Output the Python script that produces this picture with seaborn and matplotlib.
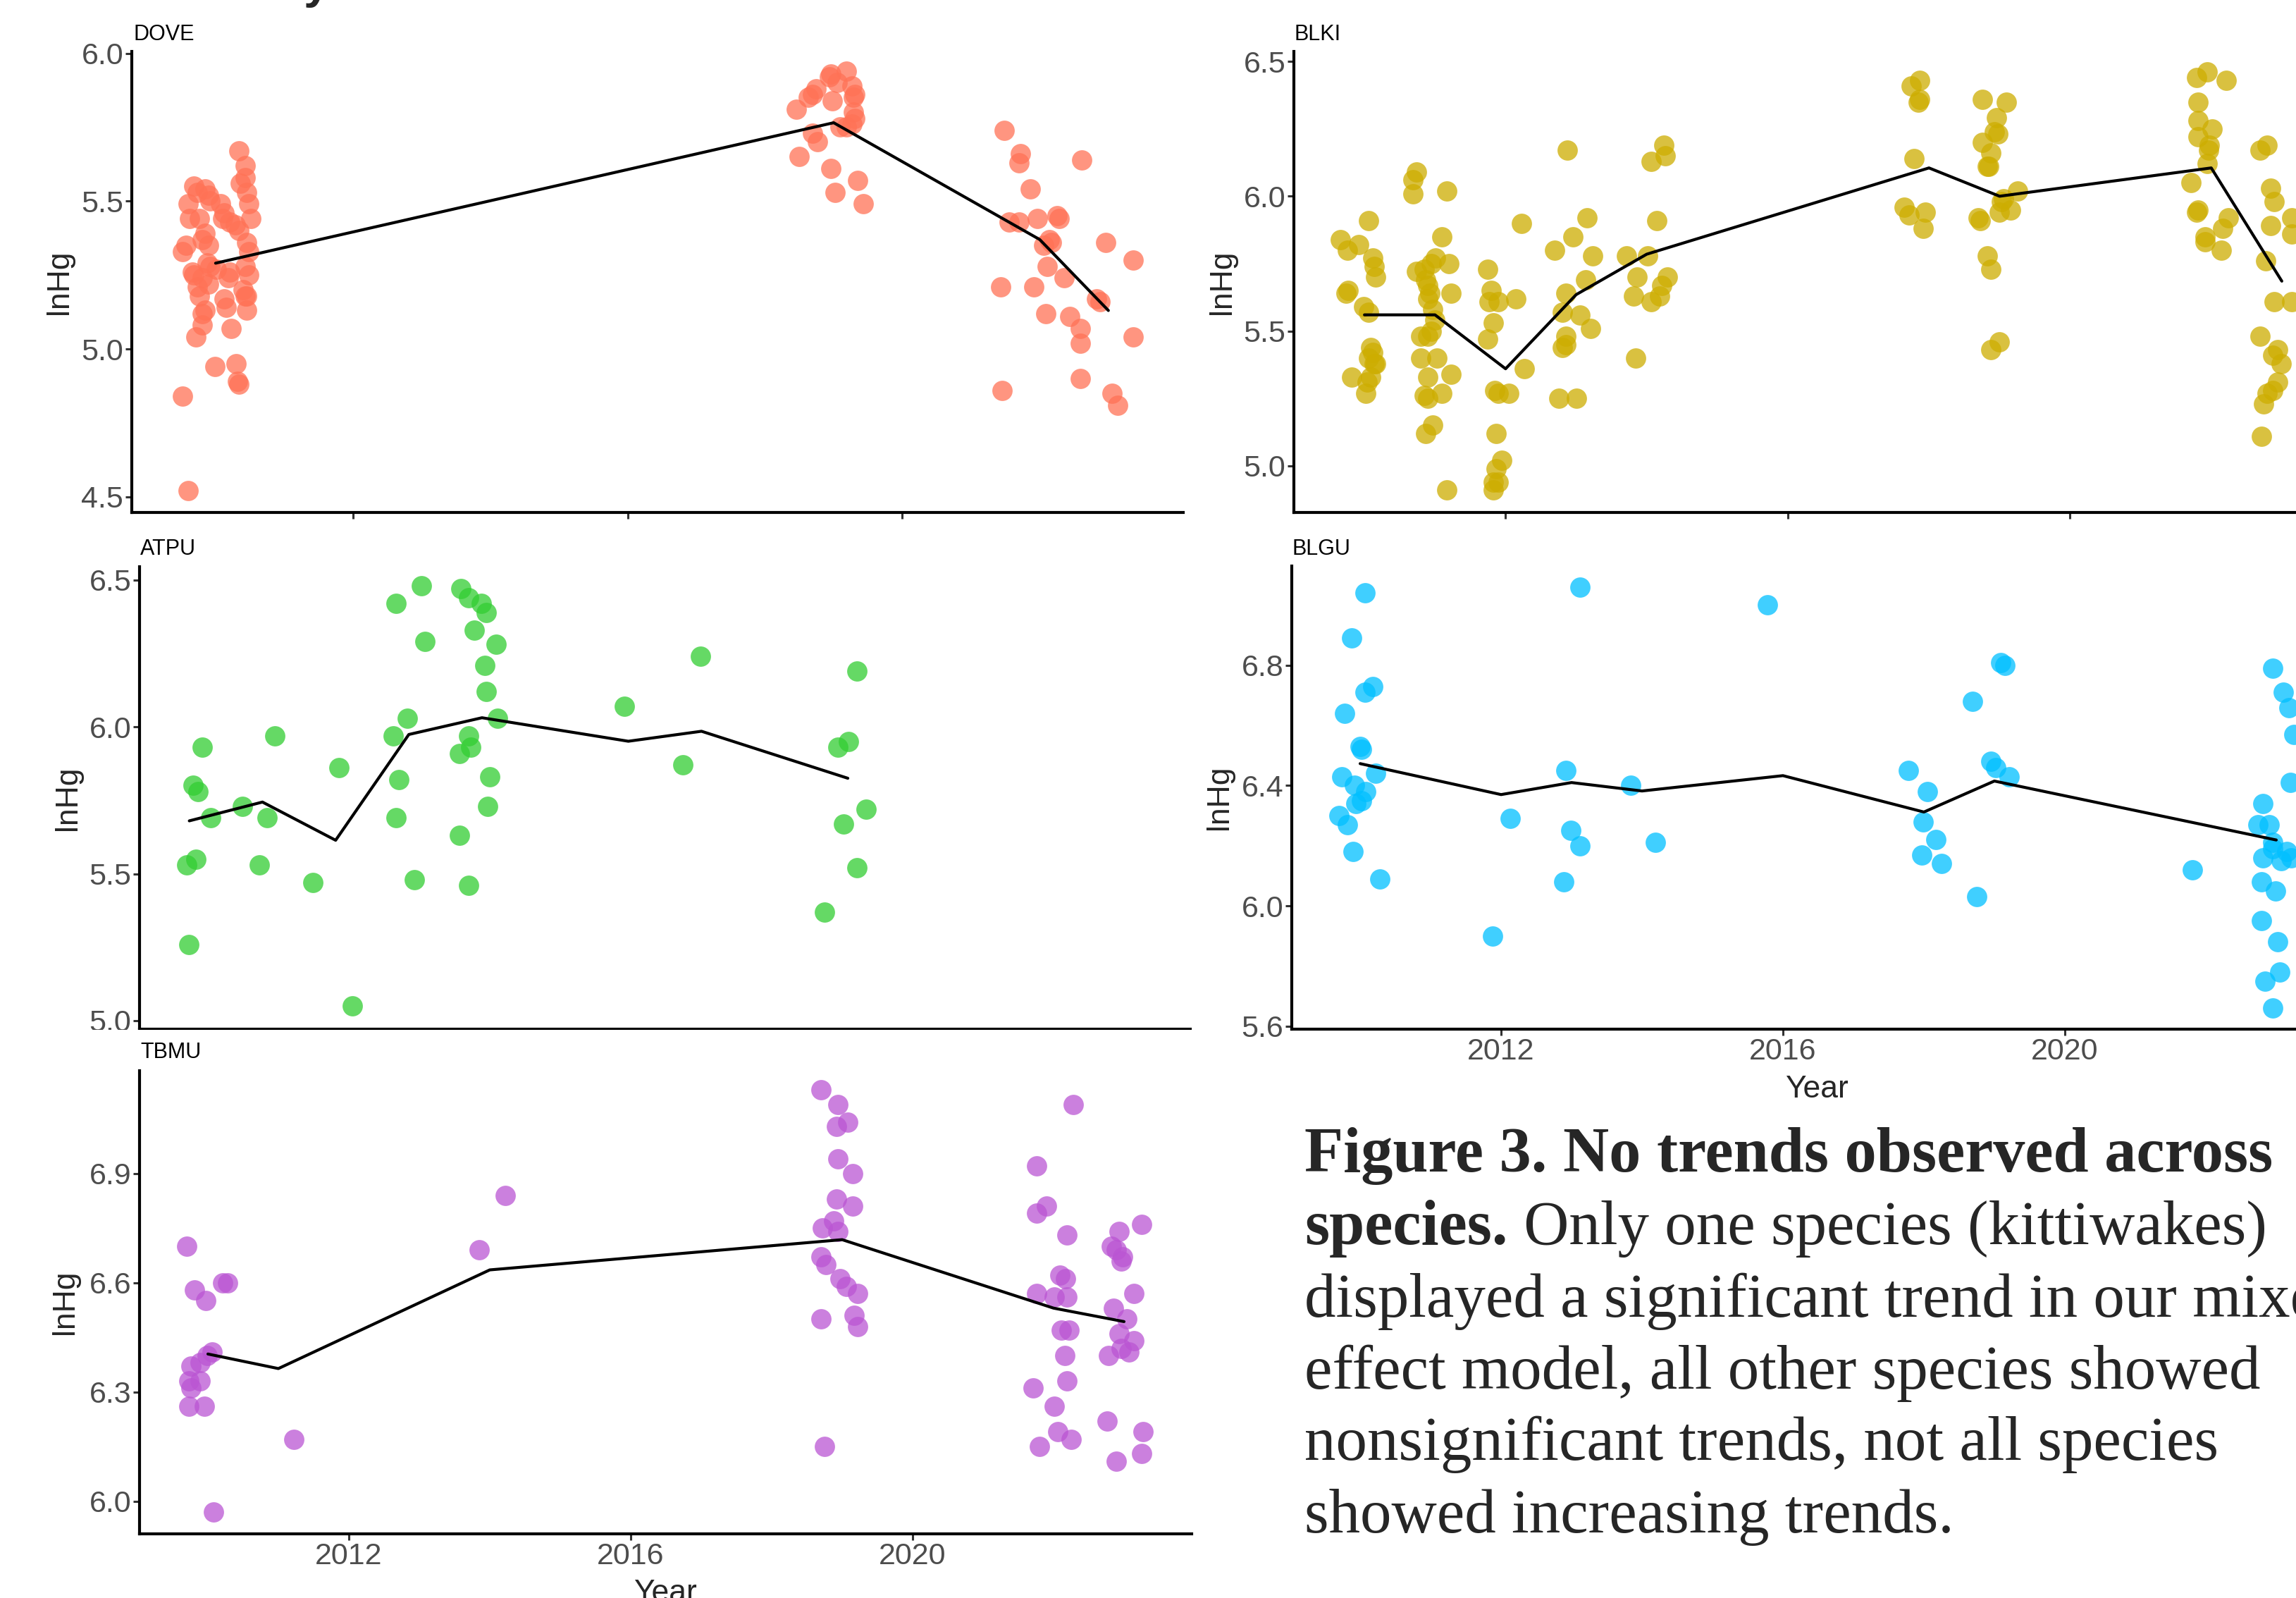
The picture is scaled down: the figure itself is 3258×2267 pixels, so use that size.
import matplotlib
matplotlib.use("Agg")
import matplotlib.pyplot as plt
import seaborn as sns
from matplotlib.patches import Rectangle

sns.set_theme(style="white")
plt.rcParams['font.family'] = ['Liberation Sans', 'DejaVu Sans']

# ---------------- data (jittered sample points + yearly mean line) ----------------
# DOVE
dove_x = [2009.52, 2009.60, 2009.71, 2009.81, 2009.99, 2010.30, 2010.34, 2010.32, 2010.23, 2010.45,
          2010.45, 2010.43, 2010.15, 2010.12, 2009.85, 2009.81, 2009.77, 2009.73, 2009.68, 2009.66,
          2009.81, 2009.90, 2009.92, 2009.88, 2010.01, 2009.57, 2009.52, 2009.81, 2009.90, 2009.85,
          2009.62, 2009.77, 2009.60, 2009.73, 2009.68, 2009.85, 2009.90, 2009.92, 2010.07, 2010.12,
          2010.10, 2010.21, 2010.29, 2010.34, 2010.34, 2010.43, 2010.43, 2010.36, 2010.45, 2010.48,
          2010.51, 2010.45, 2010.48, 2010.43, 2010.48, 2010.40, 2010.21, 2010.19,
          2018.46, 2018.50, 2018.69, 2018.74, 2018.63, 2018.94, 2018.96, 2019.05, 2018.98, 2019.18,
          2019.27, 2019.31, 2019.29, 2019.29, 2019.31, 2019.27, 2019.18, 2018.69, 2018.76, 2018.96,
          2019.02, 2019.35, 2019.43, 2019.09,
          2021.48, 2021.72, 2021.70, 2022.61, 2021.86, 2021.56, 2021.70, 2021.97, 2022.25, 2022.28,
          2022.14, 2022.06, 2022.17, 2022.96, 2023.36, 2022.11, 2022.36, 2021.43, 2021.91, 2022.83,
          2022.88, 2022.09, 2022.44, 2022.59, 2022.59, 2023.36, 2022.59, 2021.45, 2023.05, 2023.14]
dove_y = [4.84, 4.52, 5.04, 5.08, 4.94, 4.95, 4.88, 4.89, 5.07, 5.13,
          5.18, 5.18, 5.14, 5.17, 5.13, 5.12, 5.18, 5.21, 5.25, 5.26,
          5.24, 5.22, 5.28, 5.29, 5.27, 5.35, 5.33, 5.37, 5.35, 5.39,
          5.44, 5.44, 5.49, 5.53, 5.55, 5.54, 5.52, 5.50, 5.49, 5.46,
          5.44, 5.43, 5.42, 5.40, 5.67, 5.62, 5.58, 5.56, 5.53, 5.49,
          5.44, 5.36, 5.33, 5.28, 5.25, 5.20, 5.26, 5.24,
          5.81, 5.65, 5.86, 5.88, 5.85, 5.92, 5.93, 5.90, 5.84, 5.94,
          5.89, 5.86, 5.85, 5.80, 5.78, 5.76, 5.75, 5.73, 5.70, 5.61,
          5.53, 5.57, 5.49, 5.75,
          5.74, 5.66, 5.63, 5.64, 5.54, 5.43, 5.43, 5.44, 5.45, 5.44,
          5.37, 5.35, 5.36, 5.36, 5.30, 5.28, 5.24, 5.21, 5.21, 5.17,
          5.16, 5.12, 5.11, 5.07, 5.02, 5.04, 4.90, 4.86, 4.85, 4.81]
dove_years = [2010, 2019, 2022, 2023]
dove_mean = [5.29, 5.765, 5.37, 5.13]

# BLKI
blki_x = [2009.66, 2009.76, 2009.92, 2010.06, 2010.12, 2010.14, 2010.16, 2009.74, 2009.77, 2009.99,
          2010.06, 2010.09, 2010.12, 2010.06, 2010.14, 2010.16, 2010.09, 2009.82, 2010.04, 2010.02,
          2010.69, 2010.74, 2010.69, 2011.17, 2011.10, 2010.74, 2010.85, 2010.95, 2011.01, 2011.20,
          2010.87, 2010.90, 2010.93, 2011.23, 2010.90, 2010.97, 2011.00, 2010.95, 2010.90, 2010.80,
          2010.80, 2011.03, 2010.90, 2011.23, 2010.85, 2010.90, 2011.10, 2010.97, 2010.87, 2011.17,
          2011.75, 2011.80, 2011.77, 2011.90, 2012.15, 2012.23, 2011.83, 2011.75, 2012.27, 2011.85,
          2011.90, 2012.05, 2011.87, 2011.95, 2011.87, 2011.83, 2011.90, 2011.83,
          2012.87, 2013.15, 2012.95, 2012.70, 2013.23, 2013.13, 2012.85, 2012.80, 2013.05, 2013.20,
          2012.85, 2012.80, 2012.85, 2012.75, 2013.00,
          2014.24, 2014.26, 2014.06, 2014.14, 2013.71, 2014.01, 2013.86, 2014.29, 2014.21, 2014.18,
          2013.81, 2014.06, 2013.84,
          2017.87, 2017.75, 2017.87, 2017.85, 2017.79, 2017.65, 2017.72, 2017.95, 2017.92,
          2018.76, 2019.10, 2018.96, 2018.93, 2018.98, 2018.76, 2018.88, 2018.83, 2018.85, 2019.26,
          2019.03, 2019.06, 2019.16, 2018.70, 2018.73, 2019.00, 2018.83, 2018.88, 2018.88, 2019.00,
          2021.79, 2021.94, 2022.21, 2021.81, 2021.81, 2022.01, 2021.81, 2021.97, 2021.96, 2021.94,
          2021.71, 2021.81, 2021.79, 2022.24, 2022.16, 2021.91, 2021.91, 2022.14,
          2022.69, 2022.79, 2022.84, 2022.89, 2023.14, 2022.84, 2023.14, 2022.77, 2022.89, 2023.14,
          2022.69, 2022.94, 2022.87, 2022.99, 2022.94, 2022.87, 2022.79, 2022.74, 2022.71]
blki_y = [5.84, 5.80, 5.82, 5.91, 5.77, 5.74, 5.70, 5.64, 5.65, 5.59,
          5.57, 5.44, 5.42, 5.40, 5.38, 5.38, 5.33, 5.33, 5.31, 5.27,
          6.06, 6.09, 6.01, 6.02, 5.85, 5.72, 5.73, 5.75, 5.77, 5.75,
          5.69, 5.67, 5.64, 5.64, 5.62, 5.58, 5.54, 5.50, 5.48, 5.48,
          5.40, 5.40, 5.33, 5.34, 5.26, 5.25, 5.27, 5.15, 5.12, 4.91,
          5.73, 5.65, 5.61, 5.61, 5.62, 5.90, 5.53, 5.47, 5.36, 5.28,
          5.27, 5.27, 5.12, 5.02, 4.99, 4.94, 4.94, 4.91,
          6.17, 5.92, 5.85, 5.80, 5.78, 5.69, 5.64, 5.57, 5.56, 5.51,
          5.48, 5.44, 5.45, 5.25, 5.25,
          6.19, 6.15, 6.13, 5.91, 5.78, 5.78, 5.70, 5.70, 5.67, 5.63,
          5.63, 5.61, 5.40,
          6.43, 6.41, 6.36, 6.35, 6.14, 5.96, 5.93, 5.94, 5.88,
          6.36, 6.35, 6.29, 6.24, 6.23, 6.20, 6.16, 6.11, 6.11, 6.02,
          5.98, 5.99, 5.95, 5.92, 5.91, 5.94, 5.78, 5.73, 5.43, 5.46,
          6.44, 6.46, 6.43, 6.35, 6.28, 6.25, 6.22, 6.19, 6.17, 6.12,
          6.05, 5.95, 5.94, 5.92, 5.88, 5.85, 5.83, 5.80,
          6.17, 6.19, 6.03, 5.98, 5.92, 5.89, 5.86, 5.76, 5.61, 5.61,
          5.48, 5.43, 5.41, 5.38, 5.31, 5.28, 5.27, 5.23, 5.11]
blki_years = [2010, 2011, 2012, 2013, 2014, 2018, 2019, 2022, 2023]
blki_mean = [5.56, 5.56, 5.36, 5.635, 5.785, 6.105, 6.0, 6.105, 5.685]

# ATPU
atpu_x = [2010.18, 2010.05, 2010.12, 2010.29, 2009.97, 2010.09, 2009.99, 2010.73, 2011.06, 2011.17,
          2010.96, 2011.69, 2012.05, 2012.23, 2012.83, 2013.17, 2013.22, 2012.98, 2012.79, 2012.86,
          2012.83, 2013.08, 2013.71, 2013.82, 2013.99, 2014.06, 2013.89, 2014.19, 2014.04, 2014.06,
          2014.21, 2013.82, 2013.85, 2013.69, 2014.11, 2014.08, 2013.69, 2013.82, 2015.95, 2016.99,
          2016.75, 2019.12, 2019.01, 2018.86, 2019.25, 2018.94, 2019.12, 2018.68]
atpu_y = [5.93, 5.80, 5.78, 5.69, 5.53, 5.55, 5.26, 5.73, 5.69, 5.97,
          5.53, 5.47, 5.86, 5.05, 6.42, 6.48, 6.29, 6.03, 5.97, 5.82,
          5.69, 5.48, 6.47, 6.44, 6.42, 6.39, 6.33, 6.28, 6.21, 6.12,
          6.03, 5.97, 5.93, 5.91, 5.83, 5.73, 5.63, 5.46, 6.07, 6.24,
          5.87, 6.19, 5.95, 5.93, 5.72, 5.67, 5.52, 5.37]
atpu_years = [2010, 2011, 2012, 2013, 2014, 2016, 2017, 2019]
atpu_mean = [5.68, 5.744, 5.614, 5.974, 6.031, 5.951, 5.985, 5.825]

# BLGU
blgu_x = [2010.07, 2009.88, 2009.78, 2010.07, 2010.18, 2010.00, 2010.02, 2009.74, 2009.92, 2010.08,
          2010.02, 2009.94, 2010.22, 2009.70, 2009.82, 2009.90, 2010.28, 2011.88, 2012.13, 2013.12,
          2012.92, 2012.99, 2013.12, 2012.89, 2013.84, 2014.19, 2015.78, 2017.78, 2018.05, 2017.99,
          2018.17, 2017.97, 2018.25, 2018.69, 2019.09, 2019.15, 2018.95, 2019.02, 2019.21, 2018.75,
          2021.81, 2022.95, 2023.10, 2023.18, 2023.25, 2023.20, 2022.81, 2022.74, 2022.90, 2022.95,
          2022.95, 2023.15, 2022.81, 2023.07, 2023.21, 2022.79, 2022.99, 2022.79, 2023.02, 2022.84,
          2023.05, 2022.95]
blgu_y = [7.04, 6.89, 6.64, 6.71, 6.73, 6.53, 6.52, 6.43, 6.40, 6.38,
          6.35, 6.34, 6.44, 6.30, 6.27, 6.18, 6.09, 5.90, 6.29, 7.06,
          6.45, 6.25, 6.20, 6.08, 6.40, 6.21, 7.00, 6.45, 6.38, 6.28,
          6.22, 6.17, 6.14, 6.68, 6.81, 6.80, 6.48, 6.46, 6.43, 6.03,
          6.12, 6.79, 6.71, 6.66, 6.57, 6.41, 6.34, 6.27, 6.27, 6.21,
          6.19, 6.18, 6.16, 6.15, 6.16, 6.08, 6.05, 5.95, 5.88, 5.75,
          5.78, 5.66]
blgu_years = [2010, 2012, 2013, 2014, 2016, 2018, 2019, 2023]
blgu_mean = [6.473, 6.37, 6.41, 6.382, 6.433, 6.312, 6.415, 6.219]

# TBMU
tbmu_x = [2009.70, 2009.81, 2009.97, 2010.21, 2010.28, 2010.06, 2009.99, 2009.89, 2009.76, 2009.73,
          2009.89, 2009.76, 2009.73, 2009.95, 2010.08, 2011.22, 2013.85, 2014.22,
          2018.70, 2018.94, 2018.92, 2019.08, 2018.94, 2019.15, 2018.92, 2019.15, 2018.88, 2018.72,
          2018.94, 2018.70, 2018.77, 2018.97, 2019.06, 2019.22, 2018.70, 2019.17, 2019.22, 2018.75,
          2022.28, 2021.76, 2021.76, 2021.90, 2022.19, 2022.09, 2022.17, 2021.76, 2022.01, 2022.19,
          2022.11, 2022.22, 2022.16, 2022.19, 2021.71, 2022.01, 2022.06, 2022.25, 2021.80,
          2023.25, 2022.93, 2022.82, 2022.89, 2022.96, 2022.98, 2023.14, 2022.85, 2023.04, 2022.93,
          2023.14, 2022.96, 2023.07, 2022.78, 2022.76, 2023.27, 2022.89, 2023.25]
tbmu_y = [6.70, 6.58, 6.55, 6.60, 6.60, 6.41, 6.40, 6.38, 6.37, 6.33,
          6.33, 6.31, 6.26, 6.26, 5.97, 6.17, 6.69, 6.84,
          7.13, 7.09, 7.03, 7.04, 6.94, 6.90, 6.83, 6.81, 6.77, 6.75,
          6.74, 6.67, 6.65, 6.61, 6.59, 6.57, 6.50, 6.51, 6.48, 6.15,
          7.09, 6.92, 6.79, 6.81, 6.73, 6.62, 6.61, 6.57, 6.56, 6.56,
          6.47, 6.47, 6.40, 6.33, 6.31, 6.26, 6.19, 6.17, 6.15,
          6.76, 6.74, 6.70, 6.69, 6.66, 6.67, 6.57, 6.53, 6.50, 6.46,
          6.44, 6.42, 6.41, 6.40, 6.22, 6.19, 6.11, 6.13]
tbmu_years = [2010, 2011, 2014, 2019, 2022, 2023]
tbmu_mean = [6.404, 6.364, 6.635, 6.718, 6.530, 6.493]

species = ["DOVE", "BLKI", "ATPU", "BLGU", "TBMU"]
colors = ["#FF7256", "#CDAD00", "#32CD32", "#00BFFF", "#BA55D3"]
y_ticks = [[4.5, 5.0, 5.5, 6.0], [5.0, 5.5, 6.0, 6.5], [5.0, 5.5, 6.0, 6.5],
           [5.6, 6.0, 6.4, 6.8], [6.0, 6.3, 6.6, 6.9]]
x_ticks = [2012, 2016, 2020]

W, H = 3258, 2267
fig = plt.figure(figsize=(W / 100, H / 100), dpi=100)


def add_panel(box):
    left, right, top, bottom = box
    return fig.add_axes([left / W, 1 - bottom / H, (right - left) / W, (bottom - top) / H])


# layout in pixels: (left, right, top, bottom), limits, label positions
layout = {
    "DOVE": dict(box=(187, 1679, 73, 727), xlim=(2008.78, 2024.09), ylim=(4.447, 6.006),
                 title=(190, 57), ylab=(84, 400), xlab=None),
    "BLKI": dict(box=(1836, 3328, 73, 727), xlim=(2009.0, 2023.9), ylim=(4.827, 6.537),
                 title=(1837, 57), ylab=(1735, 400), xlab=None),
    "ATPU": dict(box=(198, 1689, 804, 1460), xlim=(2009.32, 2023.68), ylim=(4.971, 6.545),
                 title=(199, 787), ylab=(97, 1132), xlab=None),
    "BLGU": dict(box=(1833, 3324, 803, 1460), xlim=(2009.03, 2023.94), ylim=(5.590, 7.130),
                 title=(1834, 787), ylab=(1730, 1131), xlab=(2578, 1557)),
    "TBMU": dict(box=(198, 1691, 1519, 2176), xlim=(2009.03, 2023.96), ylim=(5.910, 7.182),
                 title=(199, 1501), ylab=(92, 1847), xlab=(944, 2272)),
}

points = {"DOVE": (dove_x, dove_y, dove_years, dove_mean),
          "BLKI": (blki_x, blki_y, blki_years, blki_mean),
          "ATPU": (atpu_x, atpu_y, atpu_years, atpu_mean),
          "BLGU": (blgu_x, blgu_y, blgu_years, blgu_mean),
          "TBMU": (tbmu_x, tbmu_y, tbmu_years, tbmu_mean)}

axes = {}
for name, col, yt in zip(species, colors, y_ticks):
    cfg = layout[name]
    x, y, yrs, mean = points[name]
    ax = add_panel(cfg["box"])
    axes[name] = ax
    sns.scatterplot(x=x, y=y, color=col, s=430, alpha=0.75, linewidth=0, ax=ax, legend=False)
    sns.lineplot(x=yrs, y=mean, color="black", linewidth=3.0, ax=ax)
    ax.set_xlim(*cfg["xlim"])
    ax.set_ylim(*cfg["ylim"])
    ax.set_xticks(x_ticks)
    ax.set_yticks(yt)
    ax.set_yticklabels([f"{v:.1f}" for v in yt])
    ax.set_xlabel("")
    ax.set_ylabel("")
    for s in ["top", "right"]:
        ax.spines[s].set_visible(False)
    for s in ["left", "bottom"]:
        ax.spines[s].set_color("black")
        ax.spines[s].set_linewidth(3)
    ax.tick_params(axis="both", bottom=True, left=True, length=6.5, width=2.2, color="#333333",
                   labelsize=31, labelcolor="#4D4D4D", pad=2)
    if cfg["xlab"] is None:
        ax.tick_params(axis="x", labelbottom=False)

    tx, ty = cfg["title"]
    fig.text(tx / W, 1 - ty / H, name, ha="left", va="baseline", fontsize=22, color="black")
    lx, ly = cfg["ylab"]
    fig.text(lx / W, 1 - ly / H, "lnHg", rotation=90, ha="center", va="center", fontsize=32)
    if cfg["xlab"] is not None:
        xx, xy = cfg["xlab"]
        fig.text(xx / W, 1 - xy / H, "Year", ha="center", va="baseline", fontsize=32)

# the lower-left plot covers the bottom of the ATPU plot
fig.add_artist(Rectangle((0, 0), 1700 / W, (H - 1461) / H, transform=fig.transFigure,
                         facecolor="white", edgecolor="none", zorder=0.5))
axes["TBMU"].set_zorder(1)

# remnant of text cropped off the top edge
fig.text(430 / W, 1 + 3 / H, "y", ha="left", va="baseline", fontsize=48, fontweight="bold")

# caption
cap_x = 1851 / W
base = [1662, 1765, 1868, 1970, 2071, 2174]
serif = ["Liberation Serif", "DejaVu Serif"]
fs = 64
fig.text(cap_x, 1 - base[0] / H, "Figure 3. No trends observed across", ha="left", va="baseline",
         fontsize=fs + 1, fontweight="bold", family=serif)
t = fig.text(cap_x, 1 - base[1] / H, "species.", ha="left", va="baseline",
             fontsize=fs + 1, fontweight="bold", family=serif)
bb = t.get_window_extent(renderer=fig.canvas.get_renderer())
fig.text(bb.x1 / W, 1 - base[1] / H, " Only one species (kittiwakes)", ha="left", va="baseline",
         fontsize=fs, family=serif)
rest = ["displayed a significant trend in our mixed",
        "effect model, all other species showed",
        "nonsignificant trends, not all species",
        "showed increasing trends."]
for line, b in zip(rest, base[2:]):
    fig.text(cap_x, 1 - b / H, line, ha="left", va="baseline", fontsize=fs, family=serif)

fig.savefig("out.png", dpi=100, facecolor="white")
